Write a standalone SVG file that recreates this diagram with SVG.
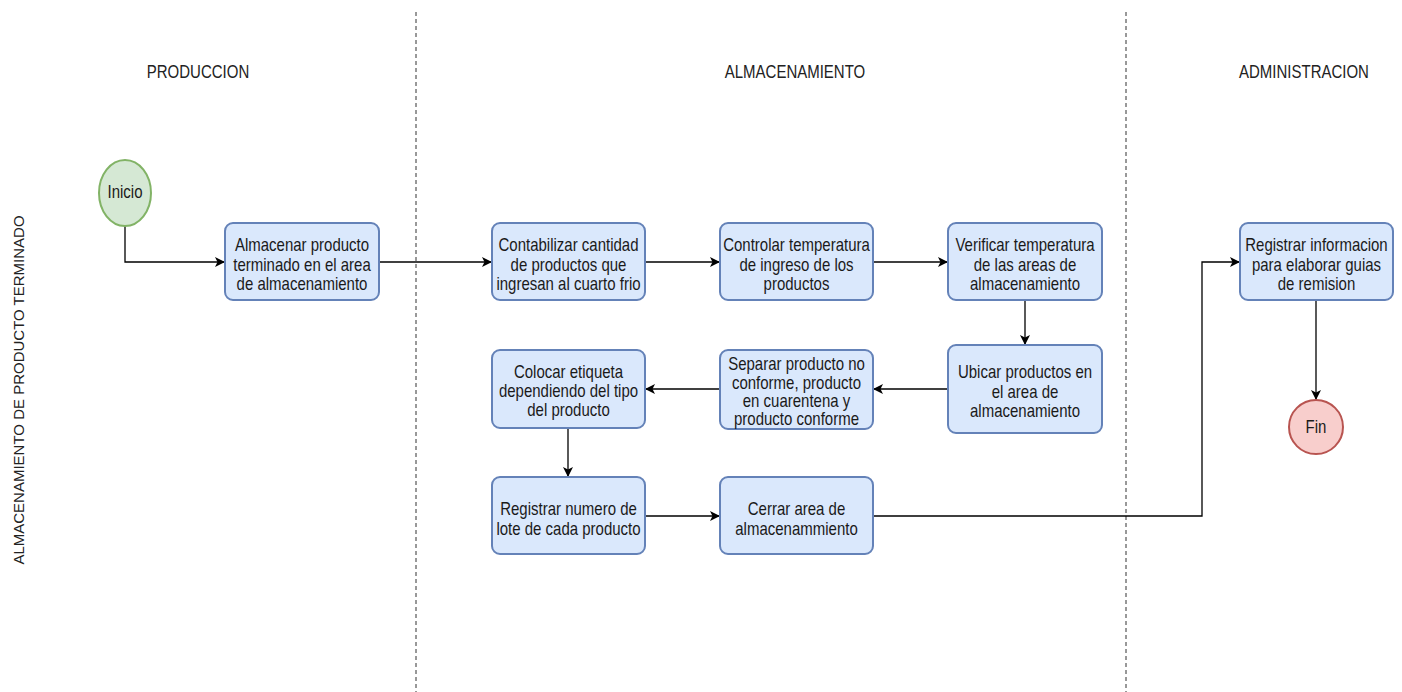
<svg xmlns="http://www.w3.org/2000/svg" width="1402" height="692" viewBox="0 0 1402 692">
  <style>
    .lane { stroke: #333; stroke-width: 1; stroke-dasharray: 4 3; fill: none; }
    .hdr { font-family: "Liberation Sans", Arial, sans-serif; font-size: 15px; fill: #222; text-anchor: middle; }
    .box { fill: #dae8fc; stroke: #6482b8; stroke-width: 2; }
    .start { fill: #d5e8d4; stroke: #82b366; stroke-width: 2; }
    .end { fill: #f8cecc; stroke: #b85450; stroke-width: 2; }
    .lbl { font-family: "Liberation Sans", Arial, sans-serif; font-size: 15px; fill: #1a1a1a; text-anchor: middle; }
    .edge { stroke: #000; stroke-width: 1.3; fill: none; marker-end: url(#arrow); }
  </style>
  <defs>
    <marker id="arrow" viewBox="0 0 10 10" refX="10" refY="5" markerWidth="10" markerHeight="10" markerUnits="userSpaceOnUse" orient="auto">
      <path d="M0,0 L10,5 L0,10 L2.5,5 z" fill="#000"/>
    </marker>
  </defs>
  <rect width="1402" height="692" fill="#fff"/>

  <!-- swimlane separators and titles (text slightly tall: scale y 1.18) -->
  <g id="lanes">
    <line class="lane" x1="416" y1="12" x2="416" y2="692"/>
    <line class="lane" x1="1126" y1="12" x2="1126" y2="692"/>
    <text class="hdr" transform="matrix(1 0 0 1.18 198 78)">PRODUCCION</text>
    <text class="hdr" transform="matrix(1 0 0 1.18 795 78)">ALMACENAMIENTO</text>
    <text class="hdr" transform="matrix(1 0 0 1.18 1304 78)">ADMINISTRACION</text>
    <text class="hdr" transform="translate(24,390) rotate(-90)">ALMACENAMIENTO DE PRODUCTO TERMINADO</text>
  </g>

  <!-- connectors -->
  <g id="connectors">
    <path class="edge" d="M125,226 L125,262 L225,262"/>
    <path class="edge" d="M379,262 L492,262"/>
    <path class="edge" d="M645,262 L720,262"/>
    <path class="edge" d="M873,262 L948,262"/>
    <path class="edge" d="M1025,300 L1025,345"/>
    <path class="edge" d="M948,389 L873,389"/>
    <path class="edge" d="M720,389 L645,389"/>
    <path class="edge" d="M568,428 L568,477"/>
    <path class="edge" d="M645,516 L720,516"/>
    <path class="edge" d="M873,516 L1202,516 L1202,262 L1240,262"/>
    <path class="edge" d="M1316,300 L1316,400"/>
  </g>

  <g id="inicio">
    <ellipse class="start" cx="125" cy="193" rx="26" ry="33"/>
    <text class="lbl" transform="matrix(1 0 0 1.18 125 198)">Inicio</text>
  </g>

  <g id="almacenar">
    <rect class="box" x="225" y="223" width="154" height="77" rx="8"/>
    <text class="lbl" transform="matrix(1 0 0 1.18 302 251)">Almacenar producto</text>
    <text class="lbl" transform="matrix(1 0 0 1.18 302 271)">terminado en el area</text>
    <text class="lbl" transform="matrix(1 0 0 1.18 302 290)">de almacenamiento</text>
  </g>

  <g id="contabilizar">
    <rect class="box" x="492" y="223" width="153" height="77" rx="8"/>
    <text class="lbl" transform="matrix(1 0 0 1.18 568.5 251)">Contabilizar cantidad</text>
    <text class="lbl" transform="matrix(1 0 0 1.18 568.5 271)">de productos que</text>
    <text class="lbl" transform="matrix(1 0 0 1.18 568.5 290)">ingresan al cuarto frio</text>
  </g>

  <g id="controlar">
    <rect class="box" x="720" y="223" width="153" height="77" rx="8"/>
    <text class="lbl" transform="matrix(1 0 0 1.18 796.5 251)">Controlar temperatura</text>
    <text class="lbl" transform="matrix(1 0 0 1.18 796.5 271)">de ingreso de los</text>
    <text class="lbl" transform="matrix(1 0 0 1.18 796.5 290)">productos</text>
  </g>

  <g id="verificar">
    <rect class="box" x="948" y="223" width="154" height="77" rx="8"/>
    <text class="lbl" transform="matrix(1 0 0 1.18 1025 251)">Verificar temperatura</text>
    <text class="lbl" transform="matrix(1 0 0 1.18 1025 271)">de las areas de</text>
    <text class="lbl" transform="matrix(1 0 0 1.18 1025 290)">almacenamiento</text>
  </g>

  <g id="ubicar">
    <rect class="box" x="948" y="345" width="154" height="88" rx="8"/>
    <text class="lbl" transform="matrix(1 0 0 1.18 1025 378)">Ubicar productos en</text>
    <text class="lbl" transform="matrix(1 0 0 1.18 1025 398)">el area de</text>
    <text class="lbl" transform="matrix(1 0 0 1.18 1025 417)">almacenamiento</text>
  </g>

  <g id="separar">
    <rect class="box" x="720" y="350" width="153" height="79" rx="8"/>
    <text class="lbl" transform="matrix(1 0 0 1.18 796.5 370)">Separar producto no</text>
    <text class="lbl" transform="matrix(1 0 0 1.18 796.5 389)">conforme, producto</text>
    <text class="lbl" transform="matrix(1 0 0 1.18 796.5 407)">en cuarentena y</text>
    <text class="lbl" transform="matrix(1 0 0 1.18 796.5 425)">producto conforme</text>
  </g>

  <g id="colocar">
    <rect class="box" x="492" y="350" width="153" height="78" rx="8"/>
    <text class="lbl" transform="matrix(1 0 0 1.18 568.5 378)">Colocar etiqueta</text>
    <text class="lbl" transform="matrix(1 0 0 1.18 568.5 397)">dependiendo del tipo</text>
    <text class="lbl" transform="matrix(1 0 0 1.18 568.5 416)">del producto</text>
  </g>

  <g id="registrar-lote">
    <rect class="box" x="492" y="477" width="153" height="77" rx="8"/>
    <text class="lbl" transform="matrix(1 0 0 1.18 568.5 515)">Registrar numero de</text>
    <text class="lbl" transform="matrix(1 0 0 1.18 568.5 535)">lote de cada producto</text>
  </g>

  <g id="cerrar">
    <rect class="box" x="720" y="477" width="153" height="77" rx="8"/>
    <text class="lbl" transform="matrix(1 0 0 1.18 796.5 515)">Cerrar area de</text>
    <text class="lbl" transform="matrix(1 0 0 1.18 796.5 535)">almacenammiento</text>
  </g>

  <g id="registrar-info">
    <rect class="box" x="1240" y="223" width="153" height="77" rx="8"/>
    <text class="lbl" transform="matrix(1 0 0 1.18 1316.5 251)">Registrar informacion</text>
    <text class="lbl" transform="matrix(1 0 0 1.18 1316.5 271)">para elaborar guias</text>
    <text class="lbl" transform="matrix(1 0 0 1.18 1316.5 290)">de remision</text>
  </g>

  <g id="fin">
    <circle class="end" cx="1316" cy="427" r="27"/>
    <text class="lbl" transform="matrix(1 0 0 1.18 1316 433)">Fin</text>
  </g>
</svg>
